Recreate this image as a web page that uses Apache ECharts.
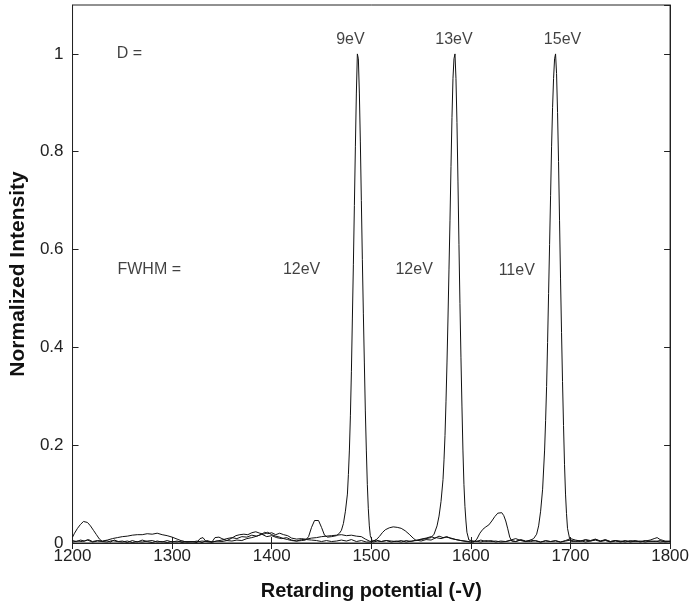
<!DOCTYPE html>
<html>
<head>
<meta charset="utf-8">
<script src="https://cdn.jsdelivr.net/npm/echarts@6/dist/echarts.min.js"></script>
<style>
  html, body { margin: 0; padding: 0; background: #fff; }
  #main { width: 692px; height: 606px; }
</style>
</head>
<body>
<div id="main"></div>
<script>
// curve with the 1486 V peak (D = 9eV)
var curve9 = [
  [1200,0.012],[1202,0.02],[1205,0.03],[1208,0.038],[1211,0.044],[1213,0.045],[1215,0.042],[1218,0.035],[1221,0.026],[1224,0.017],[1227,0.008],[1230,0.003],
  [1234,0.005],[1238,0.002],[1242,0.006],[1246,0.003],[1250,0.004],[1255,0.001],[1260,0.005],[1265,0.002],[1270,0.006],[1275,0.003],[1280,0.001],
  [1285,0.004],[1290,0.002],[1295,0.005],[1300,0.002],[1305,0.004],[1310,0.001],[1315,0.003],[1320,0.002],[1325,0.004],[1330,0.001],[1335,0.005],
  [1340,0.002],[1345,0.004],[1350,0.006],[1355,0.009],[1360,0.011],[1365,0.009],[1370,0.013],[1375,0.012],[1380,0.016],[1385,0.014],[1390,0.018],
  [1395,0.013],[1400,0.015],[1405,0.011],[1410,0.009],[1415,0.011],[1420,0.006],[1425,0.004],[1430,0.005],[1434,0.006],[1437,0.013],[1440,0.032],
  [1443,0.046],[1445,0.05],[1447,0.046],[1450,0.032],[1453,0.016],[1456,0.012],[1460,0.013],[1465,0.015],[1468,0.02],[1470,0.026],[1472,0.04],
  [1474,0.065],[1476,0.1],[1477,0.14],[1478,0.19],[1479,0.26],[1480,0.35],[1481,0.46],[1482,0.57],[1483,0.69],[1484,0.81],[1485,0.92],[1486,1.0],
  [1487,0.99],[1488,0.92],[1489,0.82],[1490,0.7],[1491,0.58],[1492,0.47],[1493,0.37],[1494,0.27],[1495,0.19],[1496,0.12],[1497,0.07],[1498,0.035],
  [1499,0.015],[1501,0.004],[1505,0.006],[1510,0.003],[1515,0.005],[1520,0.002],[1525,0.004],[1530,0.002],[1535,0.005],[1540,0.003],[1545,0.006],
  [1550,0.004],[1555,0.007],[1560,0.006],[1565,0.011],[1570,0.009],[1575,0.012],[1580,0.01],[1585,0.007],[1590,0.005],[1595,0.003],[1600,0.002],
  [1605,0.004],[1610,0.002],[1615,0.005],[1620,0.003],[1625,0.004],[1630,0.002],[1635,0.003],[1640,0.005],[1645,0.003],[1650,0.007],[1655,0.004],
  [1660,0.003],[1665,0.005],[1670,0.002],[1675,0.004],[1680,0.003],[1685,0.005],[1690,0.002],[1695,0.004],[1700,0.006],[1705,0.003],[1710,0.005],
  [1715,0.002],[1720,0.004],[1725,0.006],[1730,0.003],[1735,0.005],[1740,0.002],[1745,0.004],[1750,0.003],[1755,0.005],[1760,0.002],[1765,0.004],
  [1770,0.003],[1775,0.005],[1780,0.003],[1785,0.004],[1790,0.002],[1795,0.003],[1800,0.004]
];

// curve with the 1584 V peak (D = 13eV)
var curve13 = [
  [1200,0.005],[1204,0.003],[1208,0.006],[1212,0.004],[1216,0.007],[1220,0.003],[1225,0.005],[1230,0.004],[1235,0.006],[1240,0.009],[1245,0.011],
  [1250,0.013],[1255,0.014],[1260,0.016],[1265,0.017],[1270,0.017],[1275,0.019],[1280,0.018],[1285,0.02],[1290,0.017],[1295,0.015],[1300,0.012],
  [1305,0.008],[1310,0.004],[1315,0.002],[1320,0.003],[1325,0.001],[1328,0.009],[1331,0.011],[1334,0.003],[1340,0.002],[1343,0.011],[1347,0.012],
  [1350,0.009],[1355,0.005],[1360,0.004],[1365,0.006],[1370,0.005],[1375,0.009],[1380,0.011],[1385,0.014],[1390,0.018],[1393,0.022],[1396,0.019],
  [1400,0.021],[1404,0.017],[1408,0.02],[1412,0.017],[1416,0.015],[1420,0.01],[1425,0.008],[1430,0.009],[1435,0.007],[1440,0.006],[1445,0.005],
  [1450,0.003],[1455,0.005],[1460,0.003],[1465,0.004],[1470,0.006],[1475,0.004],[1480,0.007],[1485,0.003],[1490,0.005],[1495,0.002],[1500,0.002],
  [1505,0.007],[1508,0.013],[1511,0.021],[1514,0.027],[1518,0.031],[1522,0.033],[1526,0.032],[1530,0.03],[1534,0.025],[1538,0.018],[1542,0.01],
  [1545,0.005],[1550,0.007],[1555,0.009],[1560,0.011],[1563,0.018],[1566,0.035],[1568,0.055],[1570,0.085],[1572,0.13],[1573,0.17],[1574,0.22],
  [1575,0.29],[1576,0.37],[1577,0.46],[1578,0.56],[1579,0.66],[1580,0.77],[1581,0.87],[1582,0.95],[1583,0.99],[1584,1.0],[1585,0.95],[1586,0.86],
  [1587,0.74],[1588,0.61],[1589,0.49],[1590,0.38],[1591,0.28],[1592,0.19],[1593,0.12],[1594,0.075],[1595,0.045],[1596,0.022],[1598,0.006],
  [1600,0.002],[1605,0.003],[1610,0.006],[1615,0.003],[1620,0.005],[1625,0.002],[1630,0.004],[1635,0.003],[1640,0.006],[1645,0.009],[1650,0.005],
  [1655,0.003],[1660,0.006],[1665,0.004],[1670,0.002],[1675,0.005],[1680,0.003],[1685,0.004],[1690,0.002],[1695,0.005],[1700,0.009],[1705,0.006],
  [1710,0.004],[1715,0.007],[1720,0.005],[1725,0.008],[1730,0.004],[1735,0.007],[1740,0.003],[1745,0.005],[1750,0.004],[1755,0.002],[1760,0.005],
  [1765,0.003],[1770,0.004],[1775,0.002],[1780,0.004],[1785,0.003],[1790,0.005],[1795,0.002],[1800,0.003]
];

// curve with the 1685 V peak (D = 15eV)
var curve15 = [
  [1200,0.002],[1205,0.004],[1210,0.003],[1215,0.006],[1220,0.002],[1225,0.004],[1230,0.003],[1235,0.002],[1240,0.005],[1245,0.003],[1250,0.002],
  [1255,0.004],[1260,0.001],[1265,0.003],[1270,0.002],[1275,0.004],[1280,0.005],[1285,0.002],[1290,0.003],[1295,0.001],[1300,0.003],[1305,0.002],
  [1310,0.004],[1315,0.002],[1320,0.003],[1325,0.002],[1330,0.004],[1335,0.003],[1340,0.002],[1345,0.004],[1350,0.003],[1355,0.005],[1360,0.01],
  [1364,0.015],[1368,0.017],[1372,0.018],[1376,0.017],[1380,0.021],[1384,0.023],[1388,0.02],[1392,0.018],[1396,0.022],[1400,0.017],[1404,0.014],
  [1408,0.012],[1412,0.009],[1416,0.007],[1420,0.005],[1425,0.004],[1430,0.007],[1435,0.008],[1440,0.01],[1445,0.011],[1450,0.013],[1455,0.014],
  [1460,0.015],[1465,0.016],[1470,0.017],[1475,0.015],[1480,0.016],[1485,0.014],[1490,0.013],[1494,0.008],[1498,0.004],[1502,0.002],[1506,0.004],
  [1510,0.003],[1515,0.005],[1520,0.004],[1525,0.003],[1530,0.005],[1535,0.002],[1540,0.004],[1545,0.005],[1550,0.008],[1555,0.01],[1560,0.013],
  [1564,0.01],[1568,0.014],[1572,0.011],[1576,0.013],[1580,0.009],[1585,0.007],[1590,0.005],[1595,0.004],[1600,0.002],[1603,0.002],[1606,0.008],
  [1609,0.02],[1612,0.028],[1615,0.033],[1618,0.037],[1621,0.045],[1624,0.054],[1627,0.061],[1629,0.064],[1631,0.062],[1633,0.056],[1635,0.045],
  [1637,0.029],[1639,0.012],[1641,0.004],[1645,0.003],[1650,0.006],[1655,0.003],[1660,0.006],[1663,0.009],[1666,0.018],[1668,0.035],[1670,0.065],
  [1672,0.11],[1674,0.19],[1675,0.25],[1676,0.32],[1677,0.41],[1678,0.51],[1679,0.61],[1680,0.71],[1681,0.81],[1682,0.89],[1683,0.95],[1684,0.99],
  [1685,1.0],[1686,0.96],[1687,0.88],[1688,0.78],[1689,0.66],[1690,0.54],[1691,0.43],[1692,0.33],[1693,0.24],[1694,0.16],[1695,0.1],[1696,0.06],
  [1697,0.03],[1699,0.01],[1701,0.003],[1705,0.004],[1710,0.003],[1715,0.006],[1720,0.004],[1725,0.007],[1730,0.004],[1735,0.006],[1740,0.003],
  [1745,0.005],[1750,0.002],[1755,0.004],[1760,0.003],[1765,0.005],[1770,0.002],[1775,0.004],[1780,0.006],[1784,0.009],[1787,0.011],[1790,0.007],
  [1795,0.004],[1800,0.003]
];

// text annotations placed in data coordinates
var noteText = ['D =', '9eV', '13eV', '15eV', 'FWHM =', '12eV', '12eV', '11eV'];
var noteX    = [1257, 1479, 1583, 1692, 1277, 1430, 1543, 1646];
var noteY    = [1.0, 1.03, 1.03, 1.03, 0.56, 0.56, 0.56, 0.556];

var xTicks = { min: 1200, max: 1800, interval: 100 };
var yTicks = { min: 0, max: 1.1, interval: 0.2 };

var chart = echarts.init(document.getElementById('main'));

var lineStyle = { color: '#111', width: 1 };
function curveSeries(data) {
  return {
    type: 'line',
    data: data,
    symbol: 'none',
    lineStyle: lineStyle,
    silent: true,
    animation: false
  };
}

var notes = [];
for (var i = 0; i < noteText.length; i++) {
  notes.push({ value: [noteX[i], noteY[i]], name: noteText[i] });
}

var axisFont = { fontFamily: 'Liberation Sans', fontSize: 17, color: '#222' };
var titleFont = { fontFamily: 'Liberation Sans', fontWeight: 'bold', color: '#111' };

var option = {
  backgroundColor: '#fff',
  animation: false,
  grid: { left: 71, right: 20, top: 5, bottom: 63, show: true, borderColor: '#222', borderWidth: 1 },
  xAxis: [{
    type: 'value',
    min: xTicks.min, max: xTicks.max, interval: xTicks.interval,
    name: 'Retarding potential (-V)',
    nameLocation: 'middle',
    nameGap: 38,
    nameTextStyle: Object.assign({ fontSize: 20 }, titleFont),
    axisLine: { show: true, lineStyle: { color: '#222' } },
    axisTick: { inside: true, length: 6, lineStyle: { color: '#222' } },
    axisLabel: Object.assign({ margin: 5, formatter: function (v) { return String(v); } }, axisFont),
    splitLine: { show: false }
  }, {
    type: 'value', position: 'top',
    min: xTicks.min, max: xTicks.max, interval: xTicks.interval,
    axisLine: { show: true, lineStyle: { color: '#222' } },
    axisTick: { inside: true, length: 6, lineStyle: { color: '#222' } },
    axisLabel: { show: false },
    splitLine: { show: false }
  }],
  yAxis: [{
    type: 'value',
    min: yTicks.min, max: yTicks.max, interval: yTicks.interval,
    name: 'Normalized Intensity',
    nameLocation: 'middle',
    nameGap: 42,
    nameTextStyle: Object.assign({ fontSize: 21 }, titleFont),
    axisLine: { show: true, lineStyle: { color: '#222' } },
    axisTick: { inside: true, length: 6, lineStyle: { color: '#222' } },
    axisLabel: Object.assign({ margin: 9, showMaxLabel: false }, axisFont),
    splitLine: { show: false }
  }, {
    type: 'value', position: 'right',
    min: yTicks.min, max: yTicks.max, interval: yTicks.interval,
    axisLine: { show: true, lineStyle: { color: '#222' } },
    axisTick: { inside: true, length: 6, lineStyle: { color: '#222' } },
    axisLabel: { show: false },
    splitLine: { show: false }
  }],
  series: [
    curveSeries(curve9),
    curveSeries(curve13),
    curveSeries(curve15),
    {
      type: 'scatter',
      data: notes,
      symbolSize: 0,
      silent: true,
      label: {
        show: true,
        position: 'inside',
        formatter: '{b}',
        fontFamily: 'Liberation Sans',
        fontSize: 16,
        color: '#111'
      }
    }
  ]
};

chart.setOption(option);
</script>
</body>
</html>
